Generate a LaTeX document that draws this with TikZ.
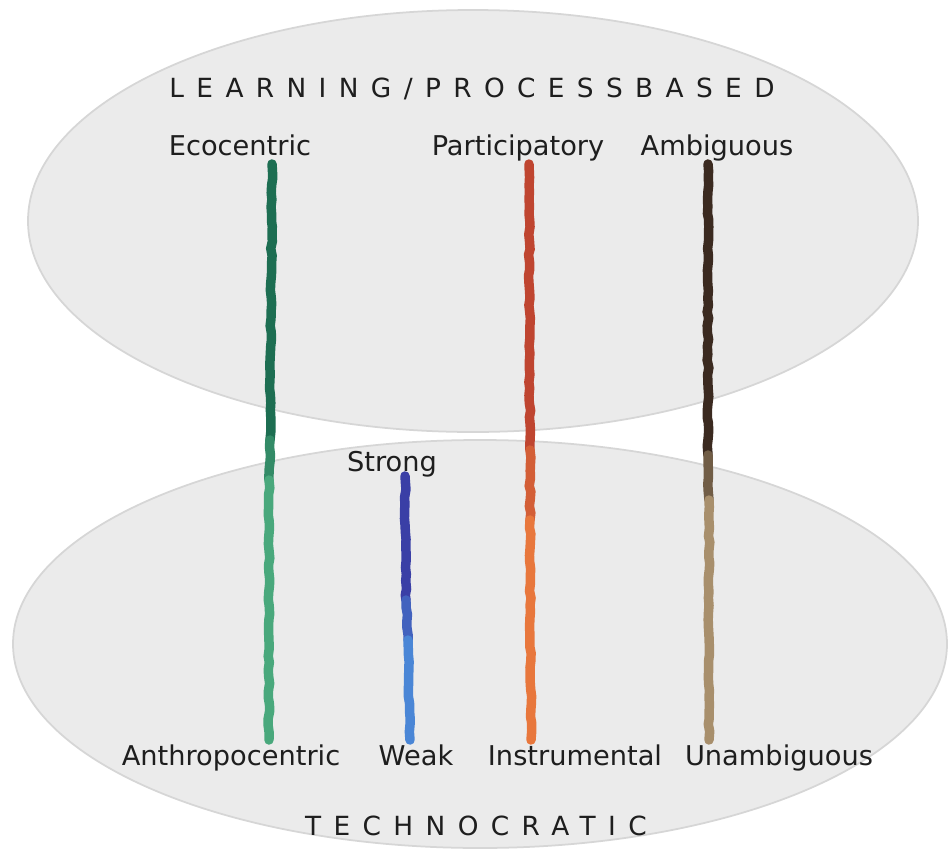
\documentclass[tikz,border=0pt]{standalone}
\usepackage{fontspec}
\setmainfont{DejaVu Sans}
\usetikzlibrary{decorations.pathmorphing}
\definecolor{ellfill}{HTML}{EBEBEB}
\definecolor{elldraw}{HTML}{D6D6D6}
\definecolor{txt}{HTML}{1E1E1E}
\definecolor{greenA}{HTML}{1D6E52}
\definecolor{greenB}{HTML}{49A87C}
\definecolor{blueA}{HTML}{3A3FA6}
\definecolor{blueB}{HTML}{4A86D6}
\definecolor{redA}{HTML}{BF4530}
\definecolor{redB}{HTML}{E8773C}
\definecolor{brownA}{HTML}{3B2A20}
\definecolor{brownB}{HTML}{A88F6C}
\tikzset{
  ell/.style={fill=ellfill, draw=elldraw, line width=1pt},
  lbl/.style={text=txt, font=\fontsize{15.5}{17}\selectfont, inner sep=0pt, anchor=base},
  ttl/.style={text=txt, font=\fontsize{15}{17}\selectfont\addfontfeature{LetterSpace=47}, inner sep=0pt, anchor=base},
  crayon/.style={line width=5.4pt, line cap=round,
    decorate, decoration={random steps, segment length=4pt, amplitude=0.5pt}},
}
\begin{document}
\begin{tikzpicture}[x=0.02cm, y=-0.02cm]
\useasboundingbox (0,0) rectangle (948,856);
\fill[white] (0,0) rectangle (948,856);
% ellipses
\draw[ell] (473,221) ellipse [x radius=445, y radius=211];
\draw[ell] (480,644) ellipse [x radius=467, y radius=204];
% titles
\node[ttl] (learn) at (472,97) {LEARNING/PROCESSBASED};
\node[ttl] (techno) at (476,835) {TECHNOCRATIC};
% labels
\node[lbl] (eco) at (240,155) {Ecocentric};
\node[lbl] (part) at (518,155) {Participatory};
\node[lbl] (amb) at (717,155) {Ambiguous};
\node[lbl] (strong) at (392,471) {Strong};
\node[lbl] (anth) at (231,765) {Anthropocentric};
\node[lbl] (weak) at (416,765) {Weak};
\node[lbl] (instr) at (575,765) {Instrumental};
\node[lbl] (unamb) at (779,765) {Unambiguous};
% line coordinates
\coordinate (g0) at (272,164); \coordinate (g1) at (270,440); \coordinate (g2) at (269,480); \coordinate (g3) at (269,740);
\coordinate (b0) at (405,476); \coordinate (b1) at (406,600); \coordinate (b2) at (408,640); \coordinate (b3) at (410,740);
\coordinate (r0) at (529,164); \coordinate (r1) at (530,450); \coordinate (r2) at (530,520); \coordinate (r3) at (531,740);
\coordinate (n0) at (708,164); \coordinate (n1) at (708,455); \coordinate (n2) at (709,500); \coordinate (n3) at (709,740);
% green
\draw[crayon, greenA] (g0) -- (g1);
\draw[crayon, greenA!50!greenB] (g1) -- (g2);
\draw[crayon, greenB] (g2) -- (g3);
% blue
\draw[crayon, blueA] (b0) -- (b1);
\draw[crayon, blueA!50!blueB] (b1) -- (b2);
\draw[crayon, blueB] (b2) -- (b3);
% red
\draw[crayon, redA] (r0) -- (r1);
\draw[crayon, redA!50!redB] (r1) -- (r2);
\draw[crayon, redB] (r2) -- (r3);
% brown
\draw[crayon, brownA] (n0) -- (n1);
\draw[crayon, brownA!50!brownB] (n1) -- (n2);
\draw[crayon, brownB] (n2) -- (n3);
\end{tikzpicture}
\end{document}
